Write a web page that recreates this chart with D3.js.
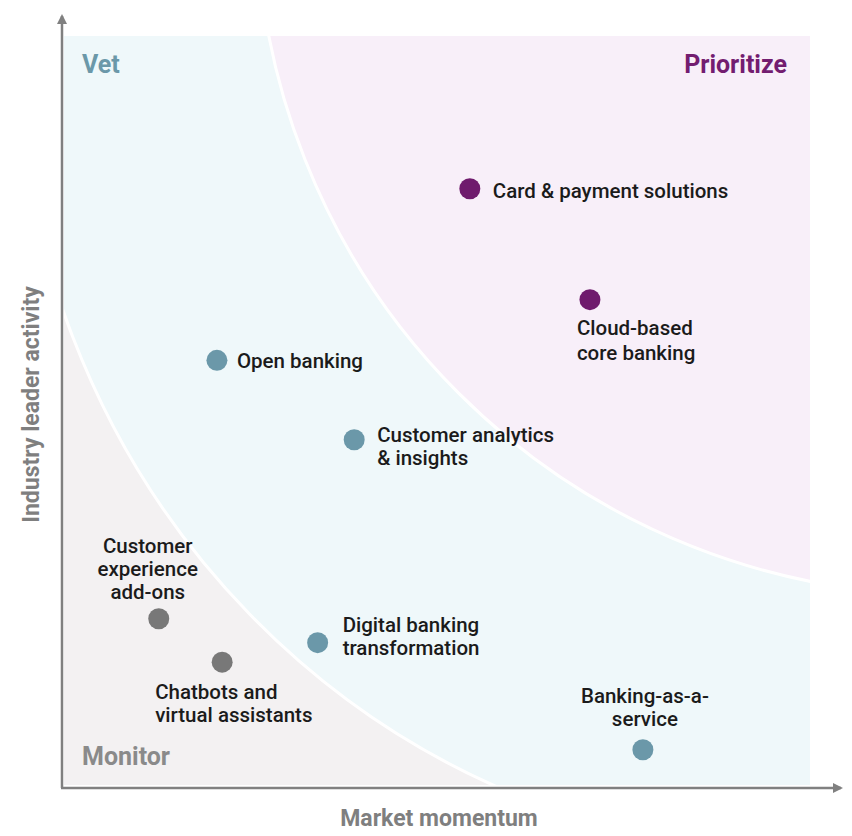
<!DOCTYPE html>
<html>
<head>
<meta charset="utf-8">
<script src="https://cdn.jsdelivr.net/npm/d3@7"></script>
<style>
  html, body { margin: 0; padding: 0; background: #ffffff; }
  svg { display: block; font-family: Roboto, "Noto Sans", sans-serif; }
</style>
</head>
<body>
<svg id="chart" width="852" height="836"></svg>
<script>
// ---- Data (0-100 scale on both axes) ----
const names = [
  "Card & payment solutions",
  "Cloud-based core banking",
  "Open banking",
  "Customer analytics & insights",
  "Customer experience add-ons",
  "Chatbots and virtual assistants",
  "Digital banking transformation",
  "Banking-as-a-service"
];
const momentum = [54.4, 70.5, 20.5, 38.9, 12.7, 21.2, 34.0, 77.6];   // x
const activity = [79.6, 64.8, 56.7, 46.1, 22.2, 16.4, 19.0, 4.7];    // y
const zone     = ["Prioritize", "Prioritize", "Vet", "Vet", "Monitor", "Monitor", "Vet", "Vet"];
const labelLines = [
  ["Card & payment solutions"],
  ["Cloud-based", "core banking"],
  ["Open banking"],
  ["Customer analytics", "& insights"],
  ["Customer", "experience", "add-ons"],
  ["Chatbots and", "virtual assistants"],
  ["Digital banking", "transformation"],
  ["Banking-as-a-", "service"]
];
const zoneNames = ["Vet", "Prioritize", "Monitor"];
const xTitle = "Market momentum";
const yTitle = "Industry leader activity";

// Zone boundaries (data units): ellipse centres and radii
const innerBoundary = { cx: 100, cy: 100, rx: 106.3, ry: 109.1 };
const outerBoundary = { cx: 118.2, cy: 117.4, rx: 92.4, ry: 92.0 };

// ---- Styles / layout ----
const zoneFill  = { Monitor: "#f3f1f2", Vet: "#eff8fa", Prioritize: "#f8eff9" };
const dotColor  = { Monitor: "#787878", Vet: "#6b98a9", Prioritize: "#6f1b6d" };
const zoneText  = { Monitor: "#8a8a8a", Vet: "#6b98a9", Prioritize: "#731d70" };

// label layout in pixels relative to the dot: dx, first baseline dy, line height, anchor
const labelLayout = [
  { dx: 23,  dy: 9,    lh: 23,   anchor: "start" },
  { dx: -13, dy: 35.5, lh: 24.5, anchor: "start" },
  { dx: 20,  dy: 8,    lh: 23,   anchor: "start" },
  { dx: 23,  dy: 2,    lh: 23,   anchor: "start" },
  { dx: -11, dy: -66,  lh: 23,   anchor: "middle" },
  { dx: -67, dy: 37,   lh: 23,   anchor: "start" },
  { dx: 25,  dy: -10.5,lh: 23,   anchor: "start" },
  { dx: 2,   dy: -47,  lh: 23,   anchor: "middle" }
];

const svg = d3.select("#chart");
const x = d3.scaleLinear().domain([0, 100]).range([64, 810]);
const y = d3.scaleLinear().domain([0, 100]).range([785, 36]);

const defs = svg.append("defs");
defs.append("clipPath").attr("id", "panel")
  .append("rect")
  .attr("x", x(0)).attr("y", y(100))
  .attr("width", x(100) - x(0)).attr("height", y(0) - y(100));

defs.append("marker")
  .attr("id", "arrow")
  .attr("viewBox", "0 0 10 10")
  .attr("refX", 8).attr("refY", 5)
  .attr("markerWidth", 4).attr("markerHeight", 4)
  .attr("markerUnits", "strokeWidth")
  .attr("orient", "auto")
  .append("path").attr("d", "M0,0 L10,5 L0,10 Z").attr("fill", "#808080");

// ---- Zones ----
const g = svg.append("g").attr("clip-path", "url(#panel)");
g.append("rect")
  .attr("x", x(0)).attr("y", y(100))
  .attr("width", x(100) - x(0)).attr("height", y(0) - y(100))
  .attr("fill", zoneFill.Monitor);

function ell(b) {
  return {
    cx: x(b.cx), cy: y(b.cy),
    rx: x(b.cx + b.rx) - x(b.cx),
    ry: y(b.cy) - y(b.cy + b.ry)
  };
}
const inner = ell(innerBoundary), outer = ell(outerBoundary);

g.append("ellipse")
  .attr("cx", inner.cx).attr("cy", inner.cy).attr("rx", inner.rx).attr("ry", inner.ry)
  .attr("fill", zoneFill.Vet).attr("stroke", "#ffffff").attr("stroke-width", 3);
g.append("ellipse")
  .attr("cx", outer.cx).attr("cy", outer.cy).attr("rx", outer.rx).attr("ry", outer.ry)
  .attr("fill", zoneFill.Prioritize).attr("stroke", "#ffffff").attr("stroke-width", 3);

// ---- Axes ----
svg.append("line")
  .attr("x1", x(0) - 2).attr("y1", y(0) + 3)
  .attr("x2", x(0) - 2).attr("y2", y(100) - 20)
  .attr("stroke", "#808080").attr("stroke-width", 2.5)
  .attr("marker-end", "url(#arrow)");
svg.append("line")
  .attr("x1", x(0) - 3).attr("y1", y(0) + 3)
  .attr("x2", x(100) + 31).attr("y2", y(0) + 3)
  .attr("stroke", "#808080").attr("stroke-width", 2.5)
  .attr("marker-end", "url(#arrow)");

svg.append("text")
  .attr("x", (x(0) + x(100)) / 2 + 2).attr("y", 826)
  .attr("text-anchor", "middle")
  .attr("font-size", 23).attr("font-weight", 700).attr("fill", "#7f7f7f")
  .text(xTitle);
svg.append("text")
  .attr("transform", `translate(38.5,${(y(0) + y(100)) / 2 - 6}) rotate(-90)`)
  .attr("text-anchor", "middle")
  .attr("font-size", 23).attr("font-weight", 700).attr("fill", "#7f7f7f")
  .text(yTitle);

// ---- Zone labels ----
svg.append("text").attr("x", x(0) + 18).attr("y", y(100) + 37)
  .attr("font-size", 25).attr("font-weight", 700).attr("fill", zoneText.Vet)
  .text(zoneNames[0]);
svg.append("text").attr("x", x(100) - 23).attr("y", y(100) + 37)
  .attr("text-anchor", "end")
  .attr("font-size", 25).attr("font-weight", 700).attr("fill", zoneText.Prioritize)
  .text(zoneNames[1]);
svg.append("text").attr("x", x(0) + 18).attr("y", y(0) - 20)
  .attr("font-size", 25).attr("font-weight", 700).attr("fill", zoneText.Monitor)
  .text(zoneNames[2]);

// ---- Points ----
const pts = names.map((n, i) => ({
  name: n, x: momentum[i], y: activity[i], zone: zone[i],
  lines: labelLines[i], lay: labelLayout[i]
}));

const pg = svg.append("g");
pg.selectAll("circle").data(pts).join("circle")
  .attr("cx", d => x(d.x)).attr("cy", d => y(d.y))
  .attr("r", 10.5)
  .attr("fill", d => dotColor[d.zone]);

const lt = pg.selectAll("text.lbl").data(pts).join("text")
  .attr("class", "lbl")
  .attr("font-size", 20.5).attr("font-weight", 500).attr("fill", "#1b1b1b")
  .attr("text-anchor", d => d.lay.anchor);
lt.each(function(d) {
  const t = d3.select(this);
  d.lines.forEach((line, k) => {
    t.append("tspan")
      .attr("x", x(d.x) + d.lay.dx)
      .attr("y", y(d.y) + d.lay.dy + k * d.lay.lh)
      .text(line);
  });
});
</script>
</body>
</html>
